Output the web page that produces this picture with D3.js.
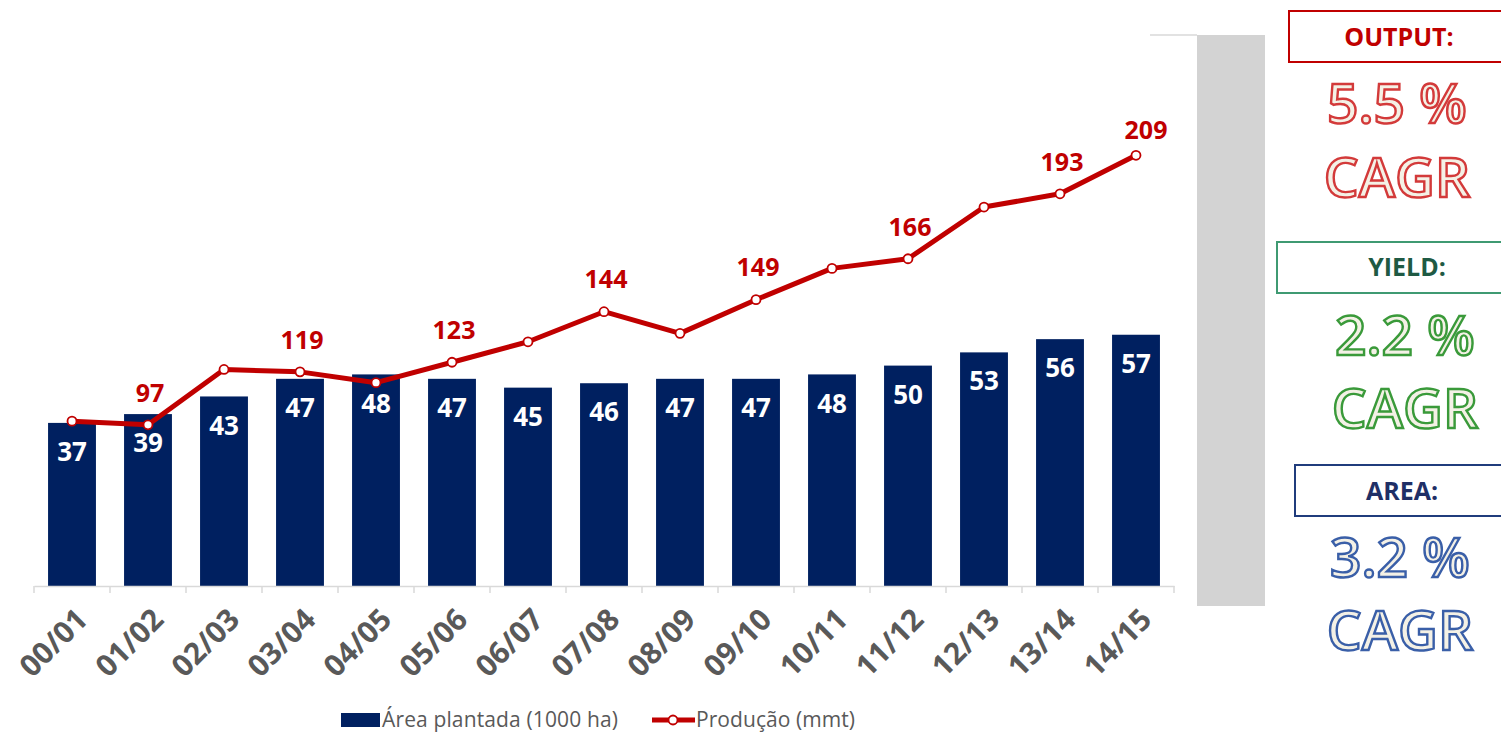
<!DOCTYPE html>
<html>
<head>
<meta charset="utf-8">
<script src="https://cdn.jsdelivr.net/npm/d3@7"></script>
<style>
  body { margin: 0; background: #fff; }
  svg { display: block; font-family: "Open Sans", "DejaVu Sans", sans-serif; }
</style>
</head>
<body>
<svg id="chart" width="1501" height="734"></svg>
<script>
// data
const seasons = ['00/01','01/02','02/03','03/04','04/05','05/06','06/07','07/08','08/09','09/10','10/11','11/12','12/13','13/14','14/15'];
const area = [37, 39, 43, 47, 48, 47, 45, 46, 47, 47, 48, 50, 53, 56, 57];            // Área plantada (1000 ha)
const production = [98.5, 97, 120, 119, 114.5, 123, 131.5, 144, 135, 149, 162, 166, 187.5, 193, 209]; // Produção (mmt)
const labelledSeasons = ['01/02','03/04','05/06','07/08','09/10','11/12','13/14','14/15'];
const cagrNames = ['OUTPUT:', 'YIELD:', 'AREA:'];
const cagrValues = ['5.5 %', '2.2 %', '3.2 %'];

const navy = '#002060', red = '#c00000', grey = '#595959';

const svg = d3.select('#chart');
const plot = {left: 34, right: 1174, top: 35, bottom: 586};

const x = d3.scaleBand().domain(seasons).range([plot.left, plot.right]).paddingInner(0.37).paddingOuter(0.185);
const yBar = d3.scaleLinear().domain([0, 125]).range([plot.bottom, plot.top]);
const yLine = d3.scaleLinear().domain([30, 259]).range([plot.bottom, plot.top]);
const cx = d => x(d) + x.bandwidth() / 2;

// grey block + top border line at right of plot
svg.append('line').attr('x1', 1150).attr('x2', 1197).attr('y1', plot.top).attr('y2', plot.top)
  .attr('stroke', '#d9d9d9').attr('stroke-width', 1.5);
svg.append('rect').attr('x', 1197).attr('y', plot.top).attr('width', 68).attr('height', 571).attr('fill', '#d3d3d3');

// bars
svg.append('g').selectAll('rect').data(seasons).join('rect')
  .attr('x', d => x(d)).attr('width', x.bandwidth())
  .attr('y', (d, i) => yBar(area[i])).attr('height', (d, i) => yBar(0) - yBar(area[i]))
  .attr('fill', navy);

// x axis: line + boundary ticks
const xAxis = svg.append('g').attr('transform', `translate(0,${plot.bottom})`)
  .call(d3.axisBottom(x).tickSize(0).tickFormat(''));
xAxis.select('.domain').attr('stroke', '#d9d9d9').attr('stroke-width', 1.5);
const bounds = seasons.map(d => cx(d) - x.step() / 2).concat([cx(seasons[seasons.length - 1]) + x.step() / 2]);
xAxis.selectAll('.bound').data(bounds).join('line').attr('class', 'bound')
  .attr('x1', d => d).attr('x2', d => d).attr('y1', 0).attr('y2', 7)
  .attr('stroke', '#d9d9d9').attr('stroke-width', 1.5);
// rotated category labels
svg.append('g').selectAll('g').data(seasons).join('g')
  .attr('transform', d => `translate(${cx(d) + 10},${plot.bottom + 28}) rotate(-45)`)
  .append('text')
  .attr('text-anchor', 'end').attr('dy', '0.35em')
  .attr('fill', grey).attr('font-size', 30).attr('font-weight', 700)
  .text(d => d);

// bar labels
svg.append('g').selectAll('text').data(seasons).join('text')
  .attr('x', d => cx(d)).attr('y', (d, i) => yBar(area[i]) + 29)
  .attr('dy', '0.35em').attr('text-anchor', 'middle')
  .attr('fill', '#fff').attr('font-size', 26).attr('font-weight', 700)
  .text((d, i) => area[i]);

// production line
const line = d3.line().x(d => cx(d)).y((d, i) => yLine(production[i]));
svg.append('path').datum(seasons).attr('d', line)
  .attr('fill', 'none').attr('stroke', red).attr('stroke-width', 5).attr('stroke-linejoin', 'round');
svg.append('g').selectAll('circle').data(seasons).join('circle')
  .attr('cx', d => cx(d)).attr('cy', (d, i) => yLine(production[i])).attr('r', 4.5)
  .attr('fill', '#fff').attr('stroke', red).attr('stroke-width', 1.8);
svg.append('g').selectAll('text').data(seasons.filter(d => labelledSeasons.includes(d))).join('text')
  .attr('x', d => cx(d) + (d === '14/15' ? 10 : 2))
  .attr('y', d => yLine(production[seasons.indexOf(d)]) - (d === '14/15' ? 25 : 32))
  .attr('dy', '0.35em').attr('text-anchor', 'middle')
  .attr('fill', red).attr('font-size', 25).attr('font-weight', 700)
  .text(d => Math.round(production[seasons.indexOf(d)]));

// legend
const lg = svg.append('g').attr('font-size', 21).attr('fill', grey);
lg.append('rect').attr('x', 341).attr('y', 713).attr('width', 39).attr('height', 14).attr('fill', navy);
lg.append('text').attr('x', 382).attr('y', 720).attr('dy', '0.35em').attr('textLength', 236).text('Área plantada (1000 ha)');
lg.append('line').attr('x1', 652).attr('x2', 695).attr('y1', 720).attr('y2', 720).attr('stroke', red).attr('stroke-width', 5);
lg.append('circle').attr('cx', 673).attr('cy', 720).attr('r', 4.5).attr('fill', '#fff').attr('stroke', red).attr('stroke-width', 1.8);
lg.append('text').attr('x', 696).attr('y', 720).attr('dy', '0.35em').attr('textLength', 159).text('Produção (mmt)');

// CAGR panel
const panels = [
  {box: [1289, 11], head: 37, val: 104, cagr: 178, cxx: 1399, stroke: red, text: red, outline: '#d33a3a'},
  {box: [1277, 242], head: 267, val: 336, cagr: 409, cxx: 1407, stroke: '#3f9a72', text: '#1f5a44', outline: '#3a9a3a'},
  {box: [1295, 465], head: 491, val: 558, cagr: 631, cxx: 1402, stroke: '#203c7c', text: '#1f2f66', outline: '#3a5fa8'}
];
panels.forEach((p, i) => {
  const g = svg.append('g');
  g.append('rect').attr('x', p.box[0]).attr('y', p.box[1]).attr('width', 1501 - p.box[0] + 2).attr('height', 51)
    .attr('fill', '#fff').attr('stroke', p.stroke).attr('stroke-width', 2);
  g.append('text').attr('x', p.cxx).attr('y', p.head).attr('dy', '0.35em').attr('text-anchor', 'middle')
    .attr('font-size', 25).attr('font-weight', 700).attr('fill', p.text).text(cagrNames[i]);
  [[p.val, cagrValues[i]], [p.cagr, 'CAGR']].forEach(([yy, t]) => {
    g.append('text').attr('x', p.cxx - 2).attr('y', yy).attr('dy', '0.35em').attr('text-anchor', 'middle')
      .attr('font-size', 55).attr('font-weight', 600)
      .attr('fill', '#f4f1e6').attr('stroke', p.outline).attr('stroke-width', 2.4)
      .text(t);
  });
});
</script>
</body>
</html>
